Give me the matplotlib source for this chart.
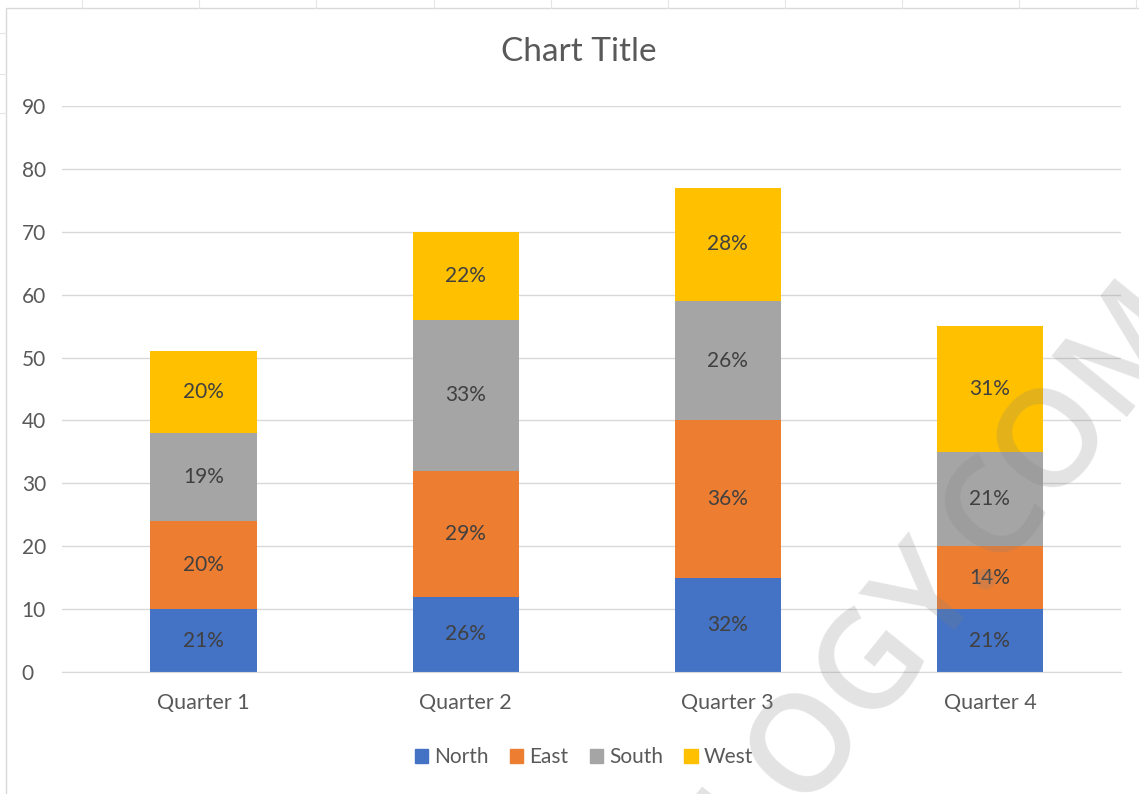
import matplotlib.pyplot as plt
import numpy as np
from matplotlib.patches import Rectangle
from matplotlib.lines import Line2D

# data
quarters = ["Quarter 1", "Quarter 2", "Quarter 3", "Quarter 4"]
series = ["North", "East", "South", "West"]
north = [10, 12, 15, 10]
east = [14, 20, 25, 10]
south = [14, 24, 19, 15]
west = [13, 14, 18, 20]
colors = ["#4472C4", "#ED7D31", "#A5A5A5", "#FFC000"]

plt.rcParams['font.family'] = ['Lato', 'DejaVu Sans']

W, H = 1139, 794
fig = plt.figure(figsize=(W / 100, H / 100), dpi=100)

# faint worksheet grid behind the chart object
for x in [82, 199, 316, 434, 551, 668, 785, 902, 1019, 1136]:
    fig.add_artist(Line2D([x / W, x / W], [1 - 8 / H, 1], color="#E6E6E6", lw=0.8))
for y in [33, 74, 113]:
    fig.add_artist(Line2D([0, 6 / W], [1 - y / H, 1 - y / H], color="#E6E6E6", lw=0.8))
# chart area border
fig.add_artist(Rectangle((6 / W, -0.1), 1.2, 1 - 8 / H + 0.1, fill=False,
                         edgecolor="#D9D9D9", lw=1))

ax = fig.add_axes([62 / W, 1 - 672 / H, (1121 - 62) / W, (672 - 106) / H])

data = [north, east, south, west]
x = np.arange(len(quarters))
bottom = np.zeros(len(quarters))
for name, vals, c in zip(series, data, colors):
    vals = np.array(vals, dtype=float)
    ax.bar(x, vals, 0.405, bottom=bottom, color=c, label=name, zorder=2)
    share = vals / vals.sum() * 100
    for xi, b, v, p in zip(x, bottom, vals, share):
        ax.text(xi, b + v / 2, f"{round(p):.0f}%", ha="center", va="center",
                fontsize=15, color="#404040", zorder=3)
    bottom += vals

ax.set_xlim(-0.54, 3.5)
ax.set_ylim(0, 90)
ax.set_yticks(range(0, 91, 10))
ax.set_xticks(x)
ax.set_xticklabels(quarters)
ax.yaxis.grid(True, color="#D9D9D9", lw=1, zorder=0)
for s in ["top", "right", "left"]:
    ax.spines[s].set_visible(False)
ax.spines["bottom"].set_color("#D9D9D9")
ax.tick_params(axis="both", length=0, labelsize=15, labelcolor="#595959")
ax.tick_params(axis="x", labelsize=15.5, pad=15)
ax.tick_params(axis="y", pad=29)
for lbl in ax.get_yticklabels():
    lbl.set_horizontalalignment("left")

fig.text(579 / W, 1 - 52 / H, "Chart Title", ha="center", va="center",
         fontsize=24, color="#595959")

handles = [Rectangle((0, 0), 1, 1, color=c) for c in colors]
fig.legend(handles, series, loc="center", bbox_to_anchor=(584 / W, 1 - 757 / H),
           ncol=4, frameon=False, fontsize=15, labelcolor="#595959",
           handlelength=0.65, handleheight=0.65, handletextpad=0.3, columnspacing=1.0)

# watermark
fig.text(1158 / W, 1 - 295 / H, "TECHNOLOGY.COM", ha="right", va="center_baseline",
         rotation=51, rotation_mode="anchor", fontsize=98, fontweight="semibold",
         family="Open Sans", color="#808080", alpha=0.22, zorder=10)

fig.savefig("out.png", dpi=100)
